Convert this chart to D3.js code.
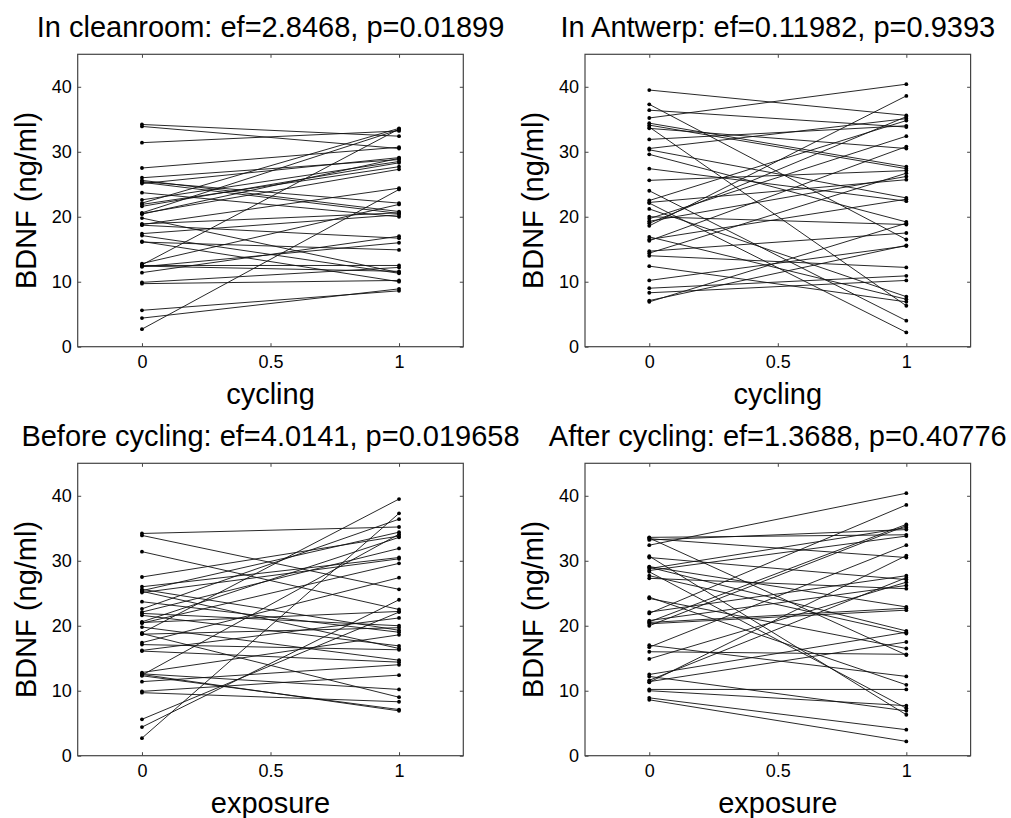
<!DOCTYPE html>
<html>
<head>
<meta charset="utf-8">
<script src="https://cdn.jsdelivr.net/npm/d3@7"></script>
<style>
  body { margin: 0; background: #fff; }
  text { font-family: "Liberation Sans", Arial, sans-serif; fill: #000; }
</style>
</head>
<body>
<svg id="chart" width="1011" height="818"></svg>
<script>
// BDNF (ng/ml) per subject, same subject order in every array
var cleanBefore = [34.2, 33.9, 31.4, 27.5, 26.0, 25.6, 25.4, 25.3, 25.1, 23.7, 22.6, 22.1,
  21.9, 21.6, 20.6, 20.5, 20.4, 19.8, 18.9, 18.8, 18.7, 17.4, 17.1, 16.2,
  16.1, 12.8, 12.6, 12.5, 12.4, 12.3, 11.4, 9.9, 9.7, 5.6, 4.4, 2.7];
var cleanAfter = [32.4, 30.5, 33.2, 30.7, 28.8, 20.8, 22.1, 20.5, 29.1, 20.0, 28.5, 33.6,
  27.7, 28.3, 33.4, 27.3, 29.0, 11.4, 20.6, 24.4, 16.7, 20.3, 11.3, 10.0,
  14.9, 21.9, 33.5, 12.5, 11.6, 16.0, 17.0, 12.2, 10.2, 8.6, 8.9, 24.2];
var antwBefore = [35.2, 25.6, 22.5, 33.8, 30.5, 19.3, 34.4, 16.5, 30.3, 19.0, 36.4, 31.9,
  20.0, 16.9, 33.6, 22.2, 29.6, 14.7, 39.5, 9.0, 19.7, 27.4, 16.3, 21.2,
  14.4, 18.6, 10.2, 6.9, 34.1, 7.1, 14.0, 12.4, 8.3, 22.1, 24.0, 37.3];
var antwAfter = [40.4, 27.1, 34.8, 6.3, 35.1, 26.2, 27.7, 22.7, 22.9, 35.4, 33.8, 34.0,
  18.8, 7.3, 30.5, 25.7, 19.2, 17.5, 35.6, 10.9, 32.4, 22.4, 30.8, 7.7,
  26.7, 38.6, 15.5, 19.0, 27.4, 15.6, 12.2, 6.9, 10.2, 2.2, 4.0, 16.5];

var titles = ['In cleanroom: ef=2.8468, p=0.01899', 'In Antwerp: ef=0.11982, p=0.9393',
  'Before cycling: ef=4.0141, p=0.019658', 'After cycling: ef=1.3688, p=0.40776'];
var xLabels = ['cycling', 'cycling', 'exposure', 'exposure'];
var yLabel = 'BDNF (ng/ml)';
var xTicks = [0, 0.5, 1];
var yTicks = [0, 10, 20, 30, 40];
var pairs = [
  [cleanBefore, cleanAfter],
  [antwBefore, antwAfter],
  [cleanBefore, antwBefore],
  [cleanAfter, antwAfter]
];

var W = 385.6, H = 292.4;
var lefts = [77.7, 585, 77.7, 585];
var tops = [54.3, 54.3, 463.3, 463.3];

var svg = d3.select('#chart');

pairs.forEach(function (pr, i) {
  var g = svg.append('g').attr('transform', 'translate(' + lefts[i] + ',' + tops[i] + ')');

  var x = d3.scaleLinear().domain([-0.25, 1.25]).range([0, W]);
  var y = d3.scaleLinear().domain([0, 45]).range([H, 0]);

  var subjects = pr[0].map(function (v, k) { return [v, pr[1][k]]; });

  // subject lines
  g.selectAll('.pair')
    .data(subjects)
    .enter().append('line')
    .attr('class', 'pair')
    .attr('x1', x(0)).attr('x2', x(1))
    .attr('y1', function (d) { return y(d[0]); })
    .attr('y2', function (d) { return y(d[1]); })
    .attr('stroke', '#111')
    .attr('stroke-width', 0.9);

  var dots = [];
  subjects.forEach(function (d) { dots.push([0, d[0]], [1, d[1]]); });
  g.selectAll('.dot')
    .data(dots)
    .enter().append('circle')
    .attr('class', 'dot')
    .attr('cx', function (d) { return x(d[0]); })
    .attr('cy', function (d) { return y(d[1]); })
    .attr('r', 1.9)
    .attr('fill', '#000');

  // axes, ticks pointing inward on all four sides
  var tick = -3.5;
  function styleAxis(sel) {
    sel.select('.domain').remove();
    sel.selectAll('line').attr('stroke', '#444');
    sel.selectAll('text').attr('font-size', 18).attr('fill', '#000')
      .attr('font-family', '"Liberation Sans", Arial, sans-serif');
  }
  g.append('g').attr('transform', 'translate(0,' + H + ')')
    .call(d3.axisBottom(x).tickValues(xTicks).tickFormat(d3.format('')).tickSizeInner(tick).tickSizeOuter(0).tickPadding(9))
    .call(styleAxis);
  g.append('g')
    .call(d3.axisTop(x).tickValues(xTicks).tickFormat('').tickSizeInner(tick).tickSizeOuter(0))
    .call(styleAxis);
  g.append('g')
    .call(d3.axisLeft(y).tickValues(yTicks).tickSizeInner(tick).tickSizeOuter(0).tickPadding(6))
    .call(styleAxis);
  g.append('g').attr('transform', 'translate(' + W + ',0)')
    .call(d3.axisRight(y).tickValues(yTicks).tickFormat('').tickSizeInner(tick).tickSizeOuter(0))
    .call(styleAxis);

  g.append('rect')
    .attr('width', W).attr('height', H)
    .attr('fill', 'none')
    .attr('stroke', '#444')
    .attr('stroke-width', 1.2);

  g.append('text')
    .attr('x', W / 2).attr('y', -17)
    .attr('text-anchor', 'middle')
    .attr('font-size', 29)
    .text(titles[i]);

  g.append('text')
    .attr('x', x(0.5)).attr('y', H + 57)
    .attr('text-anchor', 'middle')
    .attr('font-size', 29)
    .text(xLabels[i]);

  g.append('text')
    .attr('transform', 'translate(' + -42 + ',' + H / 2 + ') rotate(-90)')
    .attr('text-anchor', 'middle')
    .attr('font-size', 29)
    .text(yLabel);
});
</script>
</body>
</html>
